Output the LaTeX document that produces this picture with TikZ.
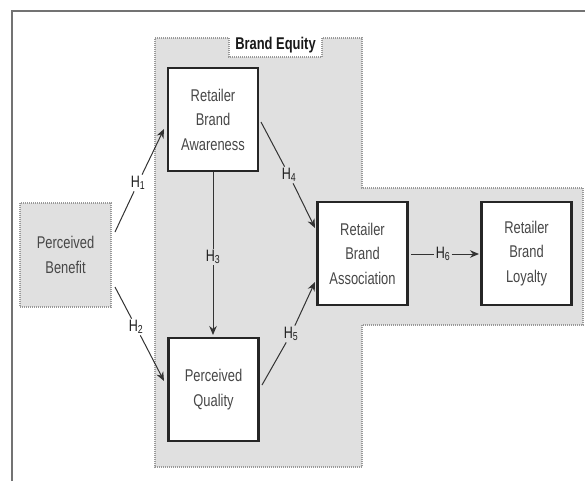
\documentclass[tikz,border=0pt]{standalone}
\usepackage{fontspec}
\setmainfont[FakeStretch=0.76]{Liberation Sans}
\usetikzlibrary{arrows.meta,calc}
\newcommand\myboxfont{\fontsize{17}{24.5}\selectfont}
\newcommand\myhfont{\fontsize{16.5}{16}\selectfont}
\begin{document}
\begin{tikzpicture}[x=1pt,y=-1pt,
  region/.style={fill=black!12,draw=black!40,line width=1.2pt,dash pattern=on 1pt off 1pt},
  thickbox/.style={draw=black!85,line width=2.4pt,fill=white,minimum width=90pt,minimum height=103pt,align=center,text=black!72,font=\myboxfont},
  dotbox/.style={draw=black!40,line width=1.2pt,dash pattern=on 1pt off 1pt,fill=black!12,minimum width=91pt,minimum height=104pt,align=center,text=black!72,font=\myboxfont},
  conn/.style={draw=black!80,line width=1pt},
  arr/.style={conn,-{Stealth[length=9pt,width=7.5pt]}},
  hlab/.style={text=black!88,font=\myhfont,inner sep=1.2pt}]
\useasboundingbox (0,0) rectangle (585,481);
\fill[white] (0,0) rectangle (585,481);
% frame
\draw[black!55,line width=1.5pt] (12,481) -- (12,11) -- (585,11);
% brand equity region
\draw[region] (155,38) -- (362,38) -- (362,188) -- (583,188) -- (583,325) -- (362,325) -- (362,467) -- (155,467) -- cycle;
\fill[white] (229,37) rectangle (322,57);
\draw[black!40,line width=1.2pt,dash pattern=on 1pt off 1pt] (229,38) -- (229,57) -- (322,57) -- (322,38);
\node[font=\fontsize{17}{18}\bfseries\selectfont,text=black!90,inner sep=0pt] (be) at (275.5,45) {Brand Equity};
% boxes
\node[thickbox] (aw) at (213,119.5) {Retailer\\Brand\\Awareness};
\node[thickbox] (pq) at (213.5,389.5) {Perceived\\Quality};
\node[thickbox] (ra) at (362.5,253.5) {Retailer\\Brand\\Association};
\node[thickbox] (rl) at (526.5,253.5) {Retailer\\Brand\\Loyalty};
\node[dotbox] (pb) at (65.5,255) {Perceived\\Benefit};
% anchor points
\coordinate (h1s) at (115,232);
\coordinate (h1e) at (164,129);
\coordinate (h2s) at (115,287);
\coordinate (h2e) at (164,381);
\coordinate (h3s) at (213,172);
\coordinate (h3e) at (213,335);
\coordinate (h4s) at (261,122);
\coordinate (h4e) at (315,228);
\coordinate (h5s) at (262,385);
\coordinate (h5e) at (315,282);
\coordinate (h6s) at (411,254);
\coordinate (h6e) at (479,254);
% labels
\node[hlab] (h1) at (138,183) {H\textsubscript{1}};
\node[hlab] (h2) at (136,327) {H\textsubscript{2}};
\node[hlab] (h3) at (213,257) {H\textsubscript{3}};
\node[hlab] (h4) at (289,175) {H\textsubscript{4}};
\node[hlab] (h5) at (291,334) {H\textsubscript{5}};
\node[hlab] (h6) at (443,254) {H\textsubscript{6}};
% connectors
\draw[conn] (h1s) -- (h1);
\draw[arr] (h1) -- (h1e);
\draw[conn] (h2s) -- (h2);
\draw[arr] (h2) -- (h2e);
\draw[conn] (h3s) -- (h3);
\draw[arr] (h3) -- (h3e);
\draw[conn] (h4s) -- (h4);
\draw[arr] (h4) -- (h4e);
\draw[conn] (h5s) -- (h5);
\draw[arr] (h5) -- (h5e);
\draw[conn] (h6s) -- (h6);
\draw[arr] (h6) -- (h6e);
\end{tikzpicture}
\end{document}
